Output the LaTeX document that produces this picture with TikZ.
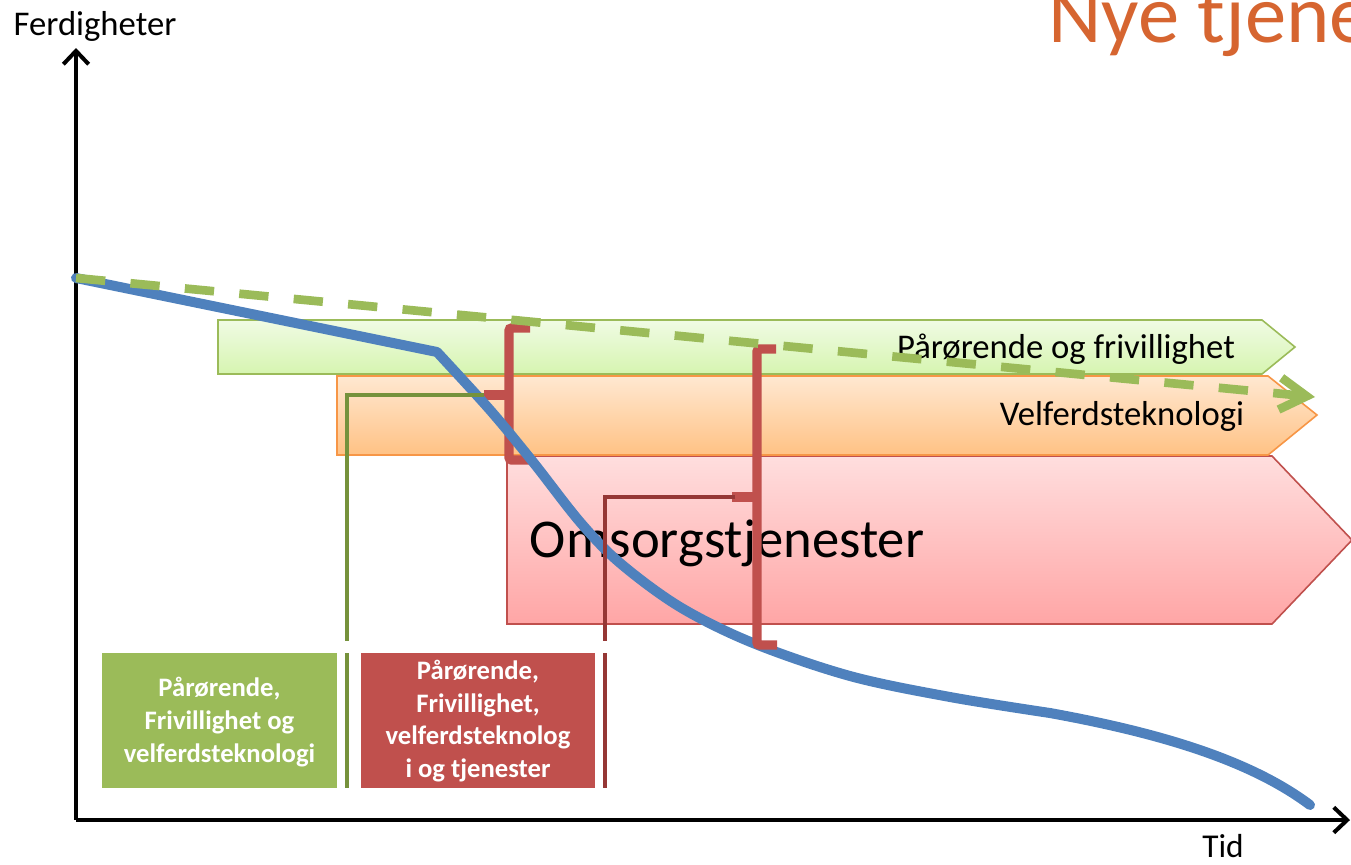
\documentclass[tikz,border=0pt]{standalone}
\usepackage{fontspec}
\setmainfont{Carlito}
\usetikzlibrary{arrows.meta}

\definecolor{grnline}{RGB}{155,187,89}
\definecolor{grndark}{RGB}{118,146,60}
\definecolor{grntop}{RGB}{240,251,228}
\definecolor{grnbot}{RGB}{214,245,176}
\definecolor{redbox}{RGB}{192,80,77}
\definecolor{reddark}{RGB}{149,55,53}
\definecolor{bluecurve}{RGB}{79,129,189}
\definecolor{orborder}{RGB}{247,150,70}
\definecolor{titleor}{RGB}{214,101,48}

\tikzset{
	axis/.style={line width=3pt, -{Straight Barb[length=10pt,width=19pt]}},
	band/.style={line width=1.2pt, line join=miter},
	bandtext/.style={font=\fontsize{26}{31}\selectfont, anchor=base},
	brace/.style={redbox, line width=7pt, rounded corners=2pt},
	link/.style={line width=3pt},
	boxtext/.style={white, align=center, font=\bfseries\fontsize{20}{24.5}\selectfont}
}

\begin{document}
\begin{tikzpicture}[x=0.75pt,y=-0.75pt]
	\useasboundingbox (0,0) rectangle (1351,864);
	\clip (0,0) rectangle (1351,864);

	%% bands
	\path[band, draw=redbox, top color=red!13, bottom color=red!35] (507,456) -- (1272,456) -- (1352,540) -- (1272,624) -- (507,624) -- cycle;
	\path[band, draw=orborder, top color=orange!18, bottom color=orange!48] (337,376) -- (1268,376) -- (1317,415) -- (1268,455) -- (337,455) -- cycle;
	\path[band, draw=grnline, top color=grntop, bottom color=grnbot] (218,320) -- (1262,320) -- (1295,347) -- (1262,374) -- (218,374) -- cycle;

	\node[bandtext] (pof) at (1066,358) {Pårørende og frivillighet};
	\node[bandtext] (vel) at (1122,425) {Velferdsteknologi};
	\node[bandtext, font=\fontsize{41}{49}\selectfont] (oms) at (727,557) {Omsorgstjenester};

	%% axes
	\draw[axis] (76,820) -- (76,48);
	\draw[axis] (76,820) -- (1350,820);
	\node[anchor=base west, font=\fontsize{26}{31}\selectfont] (ferd) at (9,35) {Ferdigheter};
	\node[anchor=base, inner sep=1pt, font=\fontsize{25}{30}\selectfont] (tid) at (1223,857) {Tid};
	\node[anchor=base west, titleor, inner sep=0pt, font=\fontsize{62}{74}\selectfont] (nye) at (1048,42) {Nye tjene};

	%% first brace
	\draw[brace] (530,328) -- (509,328) -- (509,460) -- (530,460);
	\draw[brace] (509,395) -- (484,395);

	%% skills curve
	\draw[bluecurve, line width=7.5pt, line cap=round, line join=round] (76,278) -- (437,352) -- plot[smooth, tension=0.55] coordinates {(437,352) (490,410) (533,462) (580,522) (620,563) (680,607) (753,643) (850,676) (950,697) (1050,713)} .. controls (1160,733) and (1250,760) .. (1310,805);

	%% second brace
	\draw[brace] (776,349) -- (757,349) -- (757,645) -- (777,645);
	\draw[brace] (757,497) -- (732,497);

	%% dashed trend
	\draw[grnline, line width=6.5pt, dash pattern=on 22pt off 19pt, -{Straight Barb[length=20pt,width=24pt]}] (76,278) -- (1315,397);

	%% boxes
	\fill[grnline] (102,653) rectangle (337,788);
	\fill[redbox] (361,653) rectangle (595,788);
	\node[boxtext] (gbox) at (219.5,722) {Pårørende,\\Frivillighet og\\velferdsteknologi};
	\node[boxtext] (rbox) at (478,721) {Pårørende,\\Frivillighet,\\velferdsteknolog\\i og tjenester};

	%% links
	\coordinate (gtick) at (484,395);
	\coordinate (rtick) at (735,497);
	\coordinate (gend) at (347,641);
	\coordinate (rend) at (605,641);
	\draw[link, grndark] (gtick) -| (gend);
	\draw[link, reddark] (rtick) -| (rend);
	\draw[link, grndark] (347,653) -- (347,788);
	\draw[link, reddark] (605,653) -- (605,788);
\end{tikzpicture}
\end{document}
